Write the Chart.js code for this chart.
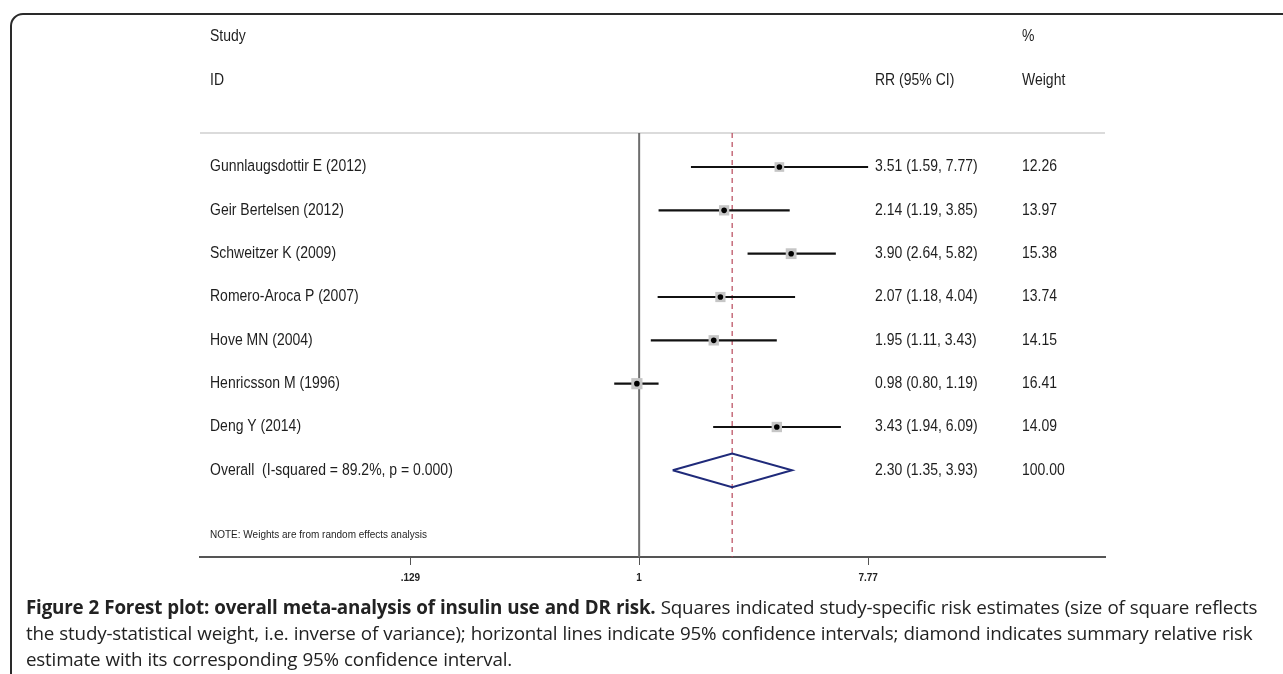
<!DOCTYPE html>
<html>
<head>
<meta charset="utf-8">
<script src="https://cdn.jsdelivr.net/npm/chart.js@4.4.1/dist/chart.umd.min.js"></script>
<style>
  html, body { margin: 0; padding: 0; background: #fff; overflow: hidden; }
  #frame {
    position: absolute; left: 10px; top: 13px; width: 1400px; height: 800px;
    border: 2px solid #2a2a2a; border-radius: 13px 0 0 0; box-sizing: border-box;
  }
  #wrap { position: absolute; left: 0; top: 0; width: 1283px; height: 674px; }
  #caption {
    position: absolute; left: 26px; top: 594px; width: 1260px;
    font-family: "Open Sans", sans-serif; font-size: 18.8px; line-height: 26px;
    color: #222; letter-spacing: -0.2px; word-spacing: 0.5px; white-space: nowrap;
  }
  #caption b { font-weight: 700; }
</style>
</head>
<body>
<div id="frame"></div>
<div id="wrap"><canvas id="forest"></canvas></div>
<div id="caption">
  <div><b>Figure 2 Forest plot: overall meta-analysis of insulin use and DR risk.</b> Squares indicated study-specific risk estimates (size of square reflects</div>
  <div>the study-statistical weight, i.e. inverse of variance); horizontal lines indicate 95% confidence intervals; diamond indicates summary relative risk</div>
  <div>estimate with its corresponding 95% confidence interval.</div>
</div>
<script>
// study data
const studies = [
  "Gunnlaugsdottir E (2012)",
  "Geir Bertelsen (2012)",
  "Schweitzer K (2009)",
  "Romero-Aroca P (2007)",
  "Hove MN (2004)",
  "Henricsson M (1996)",
  "Deng Y (2014)",
];
const rr = [3.51, 2.14, 3.90, 2.07, 1.95, 0.98, 3.43];
const lower = [1.59, 1.19, 2.64, 1.18, 1.11, 0.80, 1.94];
const upper = [7.77, 3.85, 5.82, 4.04, 3.43, 1.19, 6.09];
const weights = [12.26, 13.97, 15.38, 13.74, 14.15, 16.41, 14.09];

// pooled estimate: rr, lower, upper
const overallLabel = "Overall  (I-squared = 89.2%, p = 0.000)";
const overall = [2.30, 1.35, 3.93];
const overallWeight = 100.00;

const tickValues = [0.129, 1, 7.77];
const tickLabels = [".129", "1", "7.77"];
const xRange = [0.0196, 64.8];
const nullValue = 1;

const overallRow = studies.length;
const fmt = (v) => v.toFixed(2);

const ciSets = studies.map((s, i) => ({
  data: [{ x: lower[i], y: i }, { x: upper[i], y: i }],
  showLine: true,
  borderColor: "#111",
  borderWidth: 2.2,
  pointRadius: 0,
  order: 3,
}));

const diamondH = 0.39;
const diamond = {
  data: [
    { x: overall[1], y: overallRow },
    { x: overall[0], y: overallRow - diamondH },
    { x: overall[2], y: overallRow },
    { x: overall[0], y: overallRow + diamondH },
    { x: overall[1], y: overallRow },
  ],
  showLine: true,
  borderColor: "#1f2a7a",
  borderWidth: 2,
  pointRadius: 0,
  order: 3,
};

// text drawn slightly stretched vertically, like the stata export
function label(ctx, txt, x, y) {
  ctx.save();
  ctx.translate(x, y);
  ctx.scale(1, 1.12);
  ctx.fillText(txt, 0, 0);
  ctx.restore();
}

// reference lines, separator and the text columns
const forestText = {
  id: "forestText",
  beforeDatasetsDraw(chart) {
    const { ctx, chartArea } = chart;
    const x = chart.scales.x;
    ctx.save();
    ctx.strokeStyle = "#cfcfcf";
    ctx.lineWidth = 1.5;
    ctx.beginPath();
    ctx.moveTo(chartArea.left, chartArea.top);
    ctx.lineTo(chartArea.right, chartArea.top);
    ctx.stroke();

    const x1 = x.getPixelForValue(nullValue);
    ctx.strokeStyle = "#6e6e6e";
    ctx.lineWidth = 2;
    ctx.beginPath();
    ctx.moveTo(x1, chartArea.top);
    ctx.lineTo(x1, chartArea.bottom);
    ctx.stroke();

    const xp = x.getPixelForValue(overall[0]);
    ctx.strokeStyle = "#b8485a";
    ctx.lineWidth = 1.2;
    ctx.setLineDash([5, 4]);
    ctx.beginPath();
    ctx.moveTo(xp, chartArea.top);
    ctx.lineTo(xp, chartArea.bottom);
    ctx.stroke();
    ctx.restore();
  },
  afterDraw(chart) {
    const { ctx, chartArea } = chart;
    const y = chart.scales.y;
    const colName = chartArea.left + 10;
    const colRR = chartArea.left + 675;
    const colW = chartArea.left + 822;
    ctx.save();
    ctx.fillStyle = "#1e1e1e";
    ctx.textBaseline = "middle";
    ctx.font = '14px "Liberation Sans", Arial, sans-serif';
    label(ctx, "Study", colName, y.getPixelForValue(-3));
    label(ctx, "%", colW, y.getPixelForValue(-3));
    label(ctx, "ID", colName, y.getPixelForValue(-2));
    label(ctx, "RR (95% CI)", colRR, y.getPixelForValue(-2));
    label(ctx, "Weight", colW, y.getPixelForValue(-2));
    studies.forEach((s, i) => {
      const py = y.getPixelForValue(i);
      label(ctx, s, colName, py);
      label(ctx, fmt(rr[i]) + " (" + fmt(lower[i]) + ", " + fmt(upper[i]) + ")", colRR, py);
      label(ctx, fmt(weights[i]), colW, py);
    });
    const po = y.getPixelForValue(overallRow);
    label(ctx, overallLabel, colName, po);
    label(ctx, fmt(overall[0]) + " (" + fmt(overall[1]) + ", " + fmt(overall[2]) + ")", colRR, po);
    label(ctx, fmt(overallWeight), colW, po);
    ctx.font = '10px "Liberation Sans", Arial, sans-serif';
    label(ctx, "NOTE: Weights are from random effects analysis", colName, y.getPixelForValue(overallRow + 1.5));
    ctx.restore();
  },
};

new Chart(document.getElementById("forest"), {
  type: "scatter",
  data: {
    datasets: [
      {
        data: rr.map((v, i) => ({ x: v, y: i })),
        pointStyle: "circle",
        pointRadius: 2.8,
        backgroundColor: "#000",
        borderWidth: 0,
        order: 1,
      },
      {
        data: rr.map((v, i) => ({ x: v, y: i })),
        pointStyle: "rect",
        pointRadius: weights.map((w) => Math.sqrt(w) * 1.95),
        backgroundColor: "#c6c6c6",
        borderWidth: 0,
        order: 2,
      },
      ...ciSets,
      diamond,
    ],
  },
  options: {
    responsive: true,
    maintainAspectRatio: false,
    animation: false,
    events: [],
    layout: { padding: { left: 200, right: 178, top: 133, bottom: 87 } },
    plugins: { legend: { display: false }, tooltip: { enabled: false } },
    scales: {
      x: {
        type: "logarithmic",
        bounds: "data",
        min: xRange[0],
        max: xRange[1],
        afterBuildTicks: (scale) => {
          scale.ticks = tickValues.map((v) => ({ value: v }));
        },
        afterFit: (scale) => {
          scale.height = 30;
        },
        ticks: {
          autoSkip: false,
          maxRotation: 0,
          padding: 7,
          color: "#222",
          font: { family: '"Liberation Sans", Arial, sans-serif', size: 10, weight: "bold" },
          callback: (value, index) => tickLabels[index],
        },
        grid: { drawOnChartArea: false, drawTicks: true, tickLength: 8, color: "#555", lineWidth: 1 },
        border: { display: true, color: "#555", width: 2 },
      },
      y: {
        type: "linear",
        display: false,
        reverse: true,
        min: -0.785,
        max: 9.0,
      },
    },
  },
  plugins: [forestText],
});
</script>
</body>
</html>
